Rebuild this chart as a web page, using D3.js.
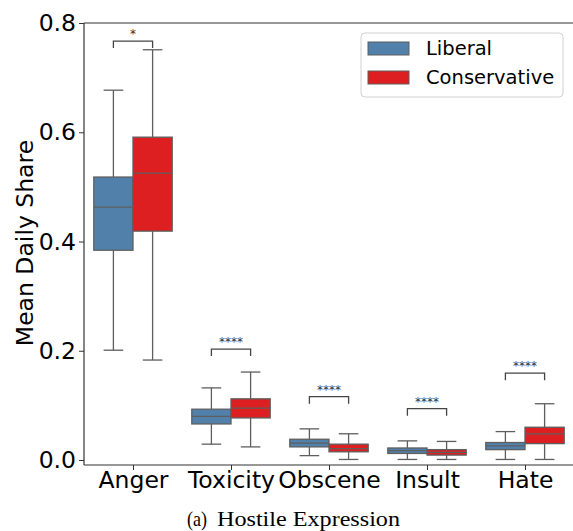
<!DOCTYPE html>
<html><head><meta charset="utf-8">
<script src="https://cdn.jsdelivr.net/npm/d3@7"></script>
<style>body{margin:0;background:#fff}svg{display:block}</style>
</head><body>
<script>
const categories = ["Anger","Toxicity","Obscene","Insult","Hate"];
const groups = ["Liberal","Conservative"];
const colors = ["#5181ab","#dd1f21"];
// box stats per category: [low whisker, Q1, median, Q3, high whisker]
const liberalStats = [
  [0.201,0.384,0.463,0.518,0.677],
  [0.029,0.066,0.080,0.093,0.132],
  [0.008,0.024,0.031,0.038,0.057],
  [0.001,0.012,0.017,0.022,0.035],
  [0.001,0.019,0.026,0.032,0.052]
];
const conservativeStats = [
  [0.183,0.419,0.525,0.591,0.751],
  [0.024,0.077,0.095,0.112,0.161],
  [0.001,0.015,0.021,0.029,0.048],
  [0.001,0.009,0.014,0.019,0.034],
  [0.001,0.030,0.048,0.060,0.103]
];
const sigLabels = ["*","****","****","****","****"];
const bracketTop = [0.767,0.203,0.116,0.094,0.159];
const yTicks = [0.0,0.2,0.4,0.6,0.8];

const W=573,H=531;
const svg=d3.select("body").append("svg").attr("width",W).attr("height",H);
const x=d3.scaleLinear().domain([-0.5,4.5]).range([84,574]);
const y=d3.scaleLinear().domain([-0.00915,0.8]).range([465,23]);
const step=x(1)-x(0);
const boxW=step*0.8/2;
const lineCol="#5e5e5e";

// axes
const yAxis=d3.axisLeft(y).tickValues(yTicks).tickFormat(d3.format(".1f")).tickSize(5).tickPadding(3);
const gy=svg.append("g").attr("transform",`translate(${x(-0.5)},0)`).call(yAxis);
gy.select(".domain").remove();
gy.selectAll("text").attr("font-family","DejaVu Sans").attr("font-size",23.5).attr("fill","#000");
gy.selectAll("line").attr("stroke","#333").attr("stroke-width",1);
const xAxis=d3.axisBottom(x).tickValues(d3.range(categories.length)).tickFormat(i=>categories[i]).tickSize(5).tickPadding(4);
const gx=svg.append("g").attr("transform",`translate(0,${y.range()[0]})`).call(xAxis);
gx.select(".domain").remove();
gx.selectAll("text").attr("font-family","DejaVu Sans").attr("font-size",23.5).attr("fill","#000").attr("dy",null).attr("y",23);
gx.selectAll("line").attr("stroke","#333").attr("stroke-width",1);
// spines
svg.append("line").attr("x1",x(-0.5)).attr("x2",x(-0.5)).attr("y1",y.range()[1]).attr("y2",y.range()[0]).attr("stroke","#333").attr("stroke-width",1.2);
svg.append("line").attr("x1",x(-0.5)).attr("x2",W+5).attr("y1",y.range()[0]).attr("y2",y.range()[0]).attr("stroke","#333").attr("stroke-width",1.2);
svg.append("line").attr("x1",x(-0.5)).attr("x2",W+5).attr("y1",y.range()[1]).attr("y2",y.range()[1]).attr("stroke","#333").attr("stroke-width",1.2);

// boxes
const allStats=[liberalStats,conservativeStats];
allStats.forEach((stats,g)=>{
  const gg=svg.append("g");
  stats.forEach((s,i)=>{
    const x0=x(i)+(g===0?-boxW:0);
    const cx=x0+boxW/2;
    const capW=boxW/2;
    gg.append("line").attr("x1",cx).attr("x2",cx).attr("y1",y(s[3])).attr("y2",y(s[4])).attr("stroke",lineCol).attr("stroke-width",1.3);
    gg.append("line").attr("x1",cx).attr("x2",cx).attr("y1",y(s[1])).attr("y2",y(s[0])).attr("stroke",lineCol).attr("stroke-width",1.3);
    gg.append("line").attr("x1",cx-capW/2).attr("x2",cx+capW/2).attr("y1",y(s[4])).attr("y2",y(s[4])).attr("stroke",lineCol).attr("stroke-width",1.3);
    gg.append("line").attr("x1",cx-capW/2).attr("x2",cx+capW/2).attr("y1",y(s[0])).attr("y2",y(s[0])).attr("stroke",lineCol).attr("stroke-width",1.3);
    gg.append("rect").attr("x",x0).attr("width",boxW).attr("y",y(s[3])).attr("height",y(s[1])-y(s[3]))
      .attr("fill",colors[g]).attr("stroke",lineCol).attr("stroke-width",1.3);
    gg.append("line").attr("x1",x0).attr("x2",x0+boxW).attr("y1",y(s[2])).attr("y2",y(s[2])).attr("stroke",lineCol).attr("stroke-width",1.3);
  });
});

// significance brackets
categories.forEach((c,i)=>{
  const xl=x(i)-boxW/2, xr=x(i)+boxW/2;
  const yt=y(bracketTop[i]);
  svg.append("path").attr("d",`M${xl},${yt+7}V${yt}H${xr}V${yt+7}`).attr("fill","none").attr("stroke","#444").attr("stroke-width",1.3);
  svg.append("text").attr("x",x(i)).attr("y",yt-3).attr("text-anchor","middle")
    .attr("font-family","DejaVu Sans").attr("font-size",12).attr("fill","#333").text(sigLabels[i]);
});

// y label
svg.append("text").attr("transform",`translate(33,243) rotate(-90)`).attr("text-anchor","middle")
  .attr("font-family","DejaVu Sans").attr("font-size",23.5).attr("fill","#000").text("Mean Daily Share");

// legend
const lg=svg.append("g");
lg.append("rect").attr("x",361).attr("y",33).attr("width",202).attr("height",64).attr("rx",4)
  .attr("fill","#fff").attr("stroke","#d0d0d0").attr("stroke-width",1);
groups.forEach((gname,g)=>{
  const yy=42+g*29;
  lg.append("rect").attr("x",368).attr("y",yy).attr("width",41).attr("height",13).attr("fill",colors[g]).attr("stroke",lineCol).attr("stroke-width",1);
  lg.append("text").attr("x",426).attr("y",yy+13).attr("font-family","DejaVu Sans").attr("font-size",19.5).attr("fill","#000").text(gname);
});

// caption
svg.append("text").attr("x",187).attr("y",526).attr("textLength",20).attr("lengthAdjust","spacingAndGlyphs")
  .attr("font-family","Liberation Serif").attr("font-size",21).attr("fill","#000").text("(a)");
svg.append("text").attr("x",217).attr("y",526).attr("textLength",183).attr("lengthAdjust","spacingAndGlyphs")
  .attr("font-family","Liberation Serif").attr("font-size",21).attr("fill","#000").text("Hostile Expression");
</script>
</body></html>
